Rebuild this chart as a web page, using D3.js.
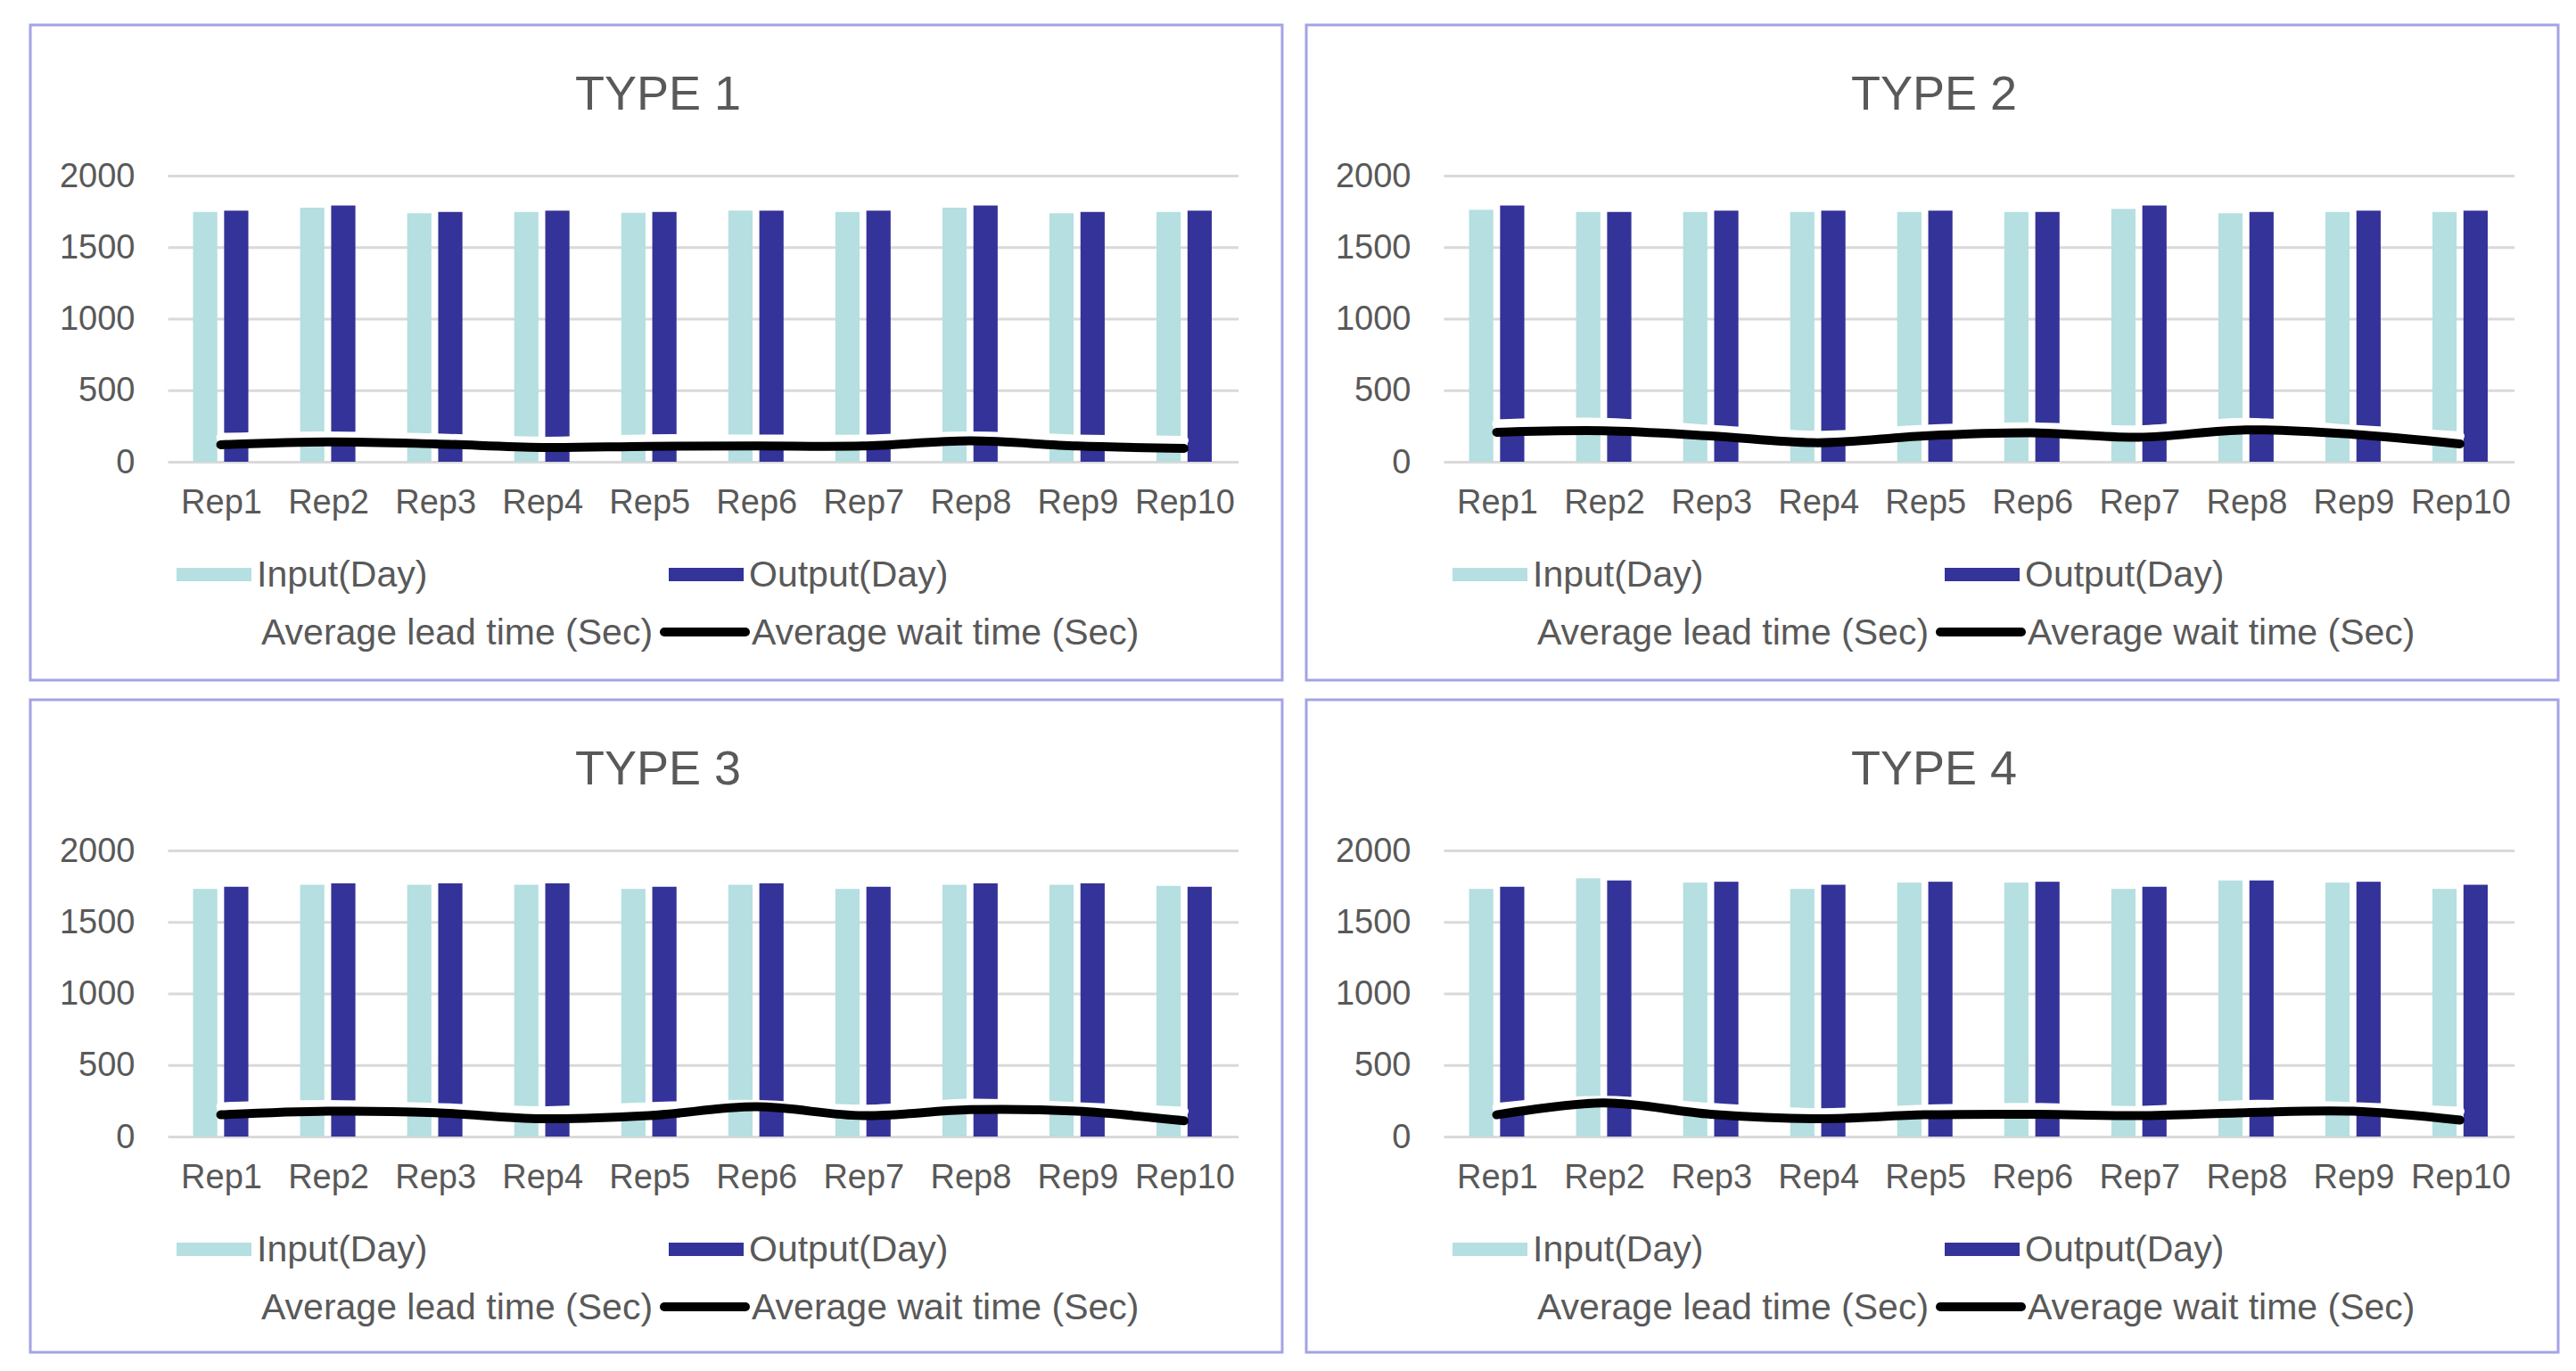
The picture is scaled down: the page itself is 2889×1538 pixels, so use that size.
<!DOCTYPE html>
<html><head><meta charset="utf-8">
<script src="https://cdn.jsdelivr.net/npm/d3@7"></script>
<style>html,body{margin:0;padding:0;background:#fff;}svg{display:block;}</style>
</head><body>
<svg id="chart" width="2889" height="1538"></svg>
<script>
const categories = ["Rep1","Rep2","Rep3","Rep4","Rep5","Rep6","Rep7","Rep8","Rep9","Rep10"];
const yTicks = [0, 500, 1000, 1500, 2000];
const titles = ["TYPE 1", "TYPE 2", "TYPE 3", "TYPE 4"];
const seriesNames = ["Input(Day)", "Output(Day)", "Average lead time (Sec)", "Average wait time (Sec)"];

const input1  = [1746,1776,1737,1746,1740,1755,1746,1776,1737,1746];
const output1 = [1755,1791,1746,1755,1746,1755,1755,1791,1746,1755];
const lead1   = [171,181,167,144,161,159,159,181,159,150];
const wait1   = [119,139,125,100,108,110,110,146,110,94];

const input2  = [1761,1746,1746,1746,1746,1746,1767,1737,1746,1746];
const output2 = [1791,1746,1755,1755,1755,1746,1791,1746,1755,1755];
const lead2   = [265,275,227,186,227,244,223,275,227,181];
const wait2   = [206,217,181,133,181,202,171,223,192,125];

const input3  = [1731,1760,1760,1760,1731,1760,1731,1760,1760,1752];
const output3 = [1746,1770,1770,1770,1746,1770,1746,1770,1770,1746];
const lead3   = [209,225,204,181,209,225,192,234,209,177];
const wait3   = [152,177,167,125,146,208,146,188,177,110];

const input4  = [1731,1805,1775,1731,1775,1775,1731,1790,1775,1731];
const output4 = [1746,1790,1781,1760,1781,1781,1746,1790,1781,1760];
const lead4   = [204,254,204,167,192,204,183,225,209,177];
const wait4   = [152,235,156,125,152,156,146,167,177,115];

const panels = [
  {title: titles[0], input: input1, output: output1, lead: lead1, wait: wait1, x: 34,   y: 28,  h: 735},
  {title: titles[1], input: input2, output: output2, lead: lead2, wait: wait2, x: 1465, y: 28,  h: 735},
  {title: titles[2], input: input3, output: output3, lead: lead3, wait: wait3, x: 34,   y: 785, h: 732},
  {title: titles[3], input: input4, output: output4, lead: lead4, wait: wait4, x: 1465, y: 785, h: 732}
];

const W = 1404;
const colInput = "#b5dfe0", colOutput = "#333399", colLead = "#ffffff", colWait = "#000000";
const textCol = "#595959";
const font = "'Liberation Sans', Arial, sans-serif";

const svg = d3.select("#chart");

panels.forEach(p => {
  const g = svg.append("g").attr("transform", `translate(${p.x},${p.y})`);
  g.append("rect").attr("x", 0).attr("y", 0).attr("width", W).attr("height", p.h)
    .attr("fill", "#fff").attr("stroke", "#a3a3e6").attr("stroke-width", 3);

  g.append("text").attr("x", W/2 + 2).attr("y", 95).attr("text-anchor", "middle")
    .attr("font-family", font).attr("font-size", 54).attr("fill", textCol).text(p.title);

  const x = d3.scaleBand().domain(categories).range([154.5, 1355]).padding(0);
  const xs = d3.scaleBand().domain(["input", "output"])
    .range([x.bandwidth()/2 - 32, x.bandwidth()/2 + 30]).paddingInner(0.22);
  const y = d3.scaleLinear().domain([0, 2000]).range([490, 169]);

  // gridlines + y axis
  const yAxis = d3.axisLeft(y).tickValues(yTicks).tickFormat(d3.format("d"))
    .tickSize(-(1355 - 154.5)).tickPadding(8);
  const ya = g.append("g").attr("transform", "translate(154.5,0)").call(yAxis);
  ya.select(".domain").remove();
  ya.selectAll(".tick line").attr("stroke", "#d9d9d9").attr("stroke-width", 3);
  ya.selectAll(".tick text").attr("font-family", font).attr("font-size", 38)
    .attr("fill", textCol).attr("x", -37);

  // x axis labels
  const xAxis = d3.axisBottom(x).tickSize(0).tickPadding(0);
  const xa = g.append("g").attr("transform", "translate(0,490)").call(xAxis);
  xa.select(".domain").remove();
  xa.selectAll(".tick text").attr("font-family", font).attr("font-size", 38)
    .attr("fill", textCol).attr("dy", 0).attr("y", 58);

  // bars
  const bars = g.append("g");
  categories.forEach((c, i) => {
    bars.append("rect").attr("x", x(c) + xs("input")).attr("width", xs.bandwidth())
      .attr("y", y(p.input[i])).attr("height", y(0) - y(p.input[i])).attr("fill", colInput);
    bars.append("rect").attr("x", x(c) + xs("output")).attr("width", xs.bandwidth())
      .attr("y", y(p.output[i])).attr("height", y(0) - y(p.output[i])).attr("fill", colOutput);
  });

  // lines
  const line = d3.line()
    .x((d, i) => x(categories[i]) + x.bandwidth()/2 - 1)
    .y(d => y(d))
    .curve(d3.curveCatmullRom.alpha(0.5));
  g.append("path").datum(p.lead).attr("d", line).attr("fill", "none")
    .attr("stroke", colLead).attr("stroke-width", 10).attr("stroke-linecap", "round").attr("stroke-linejoin", "round");
  g.append("path").datum(p.wait).attr("d", line).attr("fill", "none")
    .attr("stroke", colWait).attr("stroke-width", 10).attr("stroke-linecap", "round").attr("stroke-linejoin", "round");

  // legend
  const lg = g.append("g").attr("font-family", font).attr("font-size", 41).attr("fill", textCol);
  const row1 = 616, row2 = 681;
  const col1 = 164, col2 = 716, swW = 84, txOff = 90;
  lg.append("rect").attr("x", col1).attr("y", row1 - 7).attr("width", swW).attr("height", 15).attr("fill", colInput);
  lg.append("text").attr("x", col1 + txOff).attr("y", row1).attr("dy", "0.35em").text(seriesNames[0]);
  lg.append("rect").attr("x", col2).attr("y", row1 - 7).attr("width", swW).attr("height", 15).attr("fill", colOutput);
  lg.append("text").attr("x", col2 + txOff).attr("y", row1).attr("dy", "0.35em").text(seriesNames[1]);
  lg.append("line").attr("x1", col1 + 2).attr("x2", col1 + 2 + swW).attr("y1", row2).attr("y2", row2)
    .attr("stroke", colLead).attr("stroke-width", 10);
  lg.append("text").attr("x", 259).attr("y", row2).attr("dy", "0.35em").text(seriesNames[2]);
  lg.append("line").attr("x1", 711).attr("x2", 802).attr("y1", row2).attr("y2", row2)
    .attr("stroke", colWait).attr("stroke-width", 10).attr("stroke-linecap", "round");
  lg.append("text").attr("x", 809).attr("y", row2).attr("dy", "0.35em").text(seriesNames[3]);
});
</script>
</body></html>
